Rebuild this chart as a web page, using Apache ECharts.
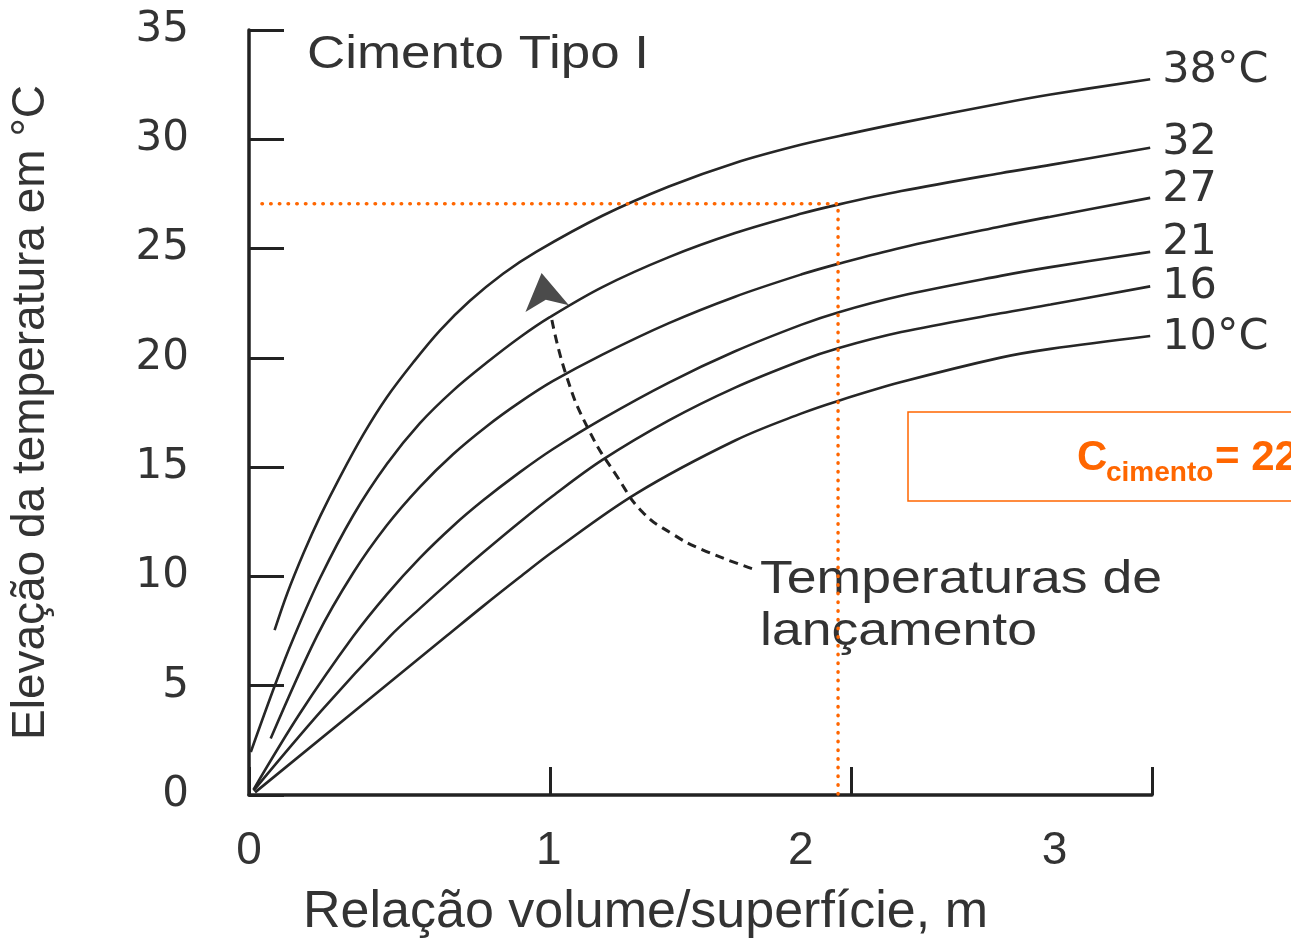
<!DOCTYPE html>
<html>
<head>
<meta charset="utf-8">
<script src="https://cdn.jsdelivr.net/npm/echarts@6/dist/echarts.min.js"></script>
<style>
  html, body { margin: 0; padding: 0; background: #fff; }
  #chart { width: 1291px; height: 944px; }
</style>
</head>
<body>
<div id="chart"></div>
<script>
// temperaturas de lançamento (rótulos no fim de cada curva)
var tempLabels = ['38°C', '32', '27', '21', '16', '10°C'];

// [relação volume/superfície (m), elevação da temperatura (°C)]
var curve38 = [[0.085, 7.54], [0.127, 9.22], [0.182, 11.09], [0.237, 12.77], [0.303, 14.57], [0.380, 16.5],
  [0.458, 18.2], [0.546, 19.8], [0.634, 21.25], [0.733, 22.6], [0.844, 23.85], [0.954, 24.85],
  [1.174, 26.5], [1.395, 27.84], [1.615, 28.92], [1.836, 29.76], [2.001, 30.27], [2.167, 30.75],
  [2.497, 31.64], [2.663, 32.05], [2.994, 32.75]];
var curve32 = [[0.006, 1.97], [0.088, 5.09], [0.149, 7.22], [0.237, 9.95], [0.347, 12.81], [0.458, 15.14],
  [0.568, 17.01], [0.678, 18.5], [0.788, 19.76], [0.899, 20.93], [0.998, 21.85], [1.174, 23.24],
  [1.395, 24.61], [1.615, 25.71], [1.836, 26.6], [1.957, 27.01], [2.167, 27.63], [2.497, 28.45],
  [2.663, 28.83], [2.994, 29.61]];
var curve27 = [[0.072, 2.58], [0.226, 7.28], [0.347, 10.18], [0.458, 12.34], [0.568, 14.1], [0.678, 15.59],
  [0.788, 16.85], [0.899, 17.96], [1.009, 18.93], [1.174, 20.15], [1.395, 21.59], [1.615, 22.8],
  [1.836, 23.82], [1.957, 24.3], [2.167, 25.04], [2.497, 26.01], [2.663, 26.46], [2.994, 27.32]];
var curve21 = [[0.015, 0.25], [0.17, 3.75], [0.347, 7.27], [0.458, 9.18], [0.568, 10.85], [0.678, 12.31],
  [0.777, 13.47], [0.899, 14.76], [1.009, 15.82], [1.174, 17.21], [1.395, 18.87], [1.615, 20.3],
  [1.836, 21.52], [1.957, 22.08], [2.167, 22.84], [2.497, 23.75], [2.663, 24.15], [2.994, 24.85]];
var curve16 = [[0.015, 0.2], [0.24, 3.85], [0.469, 7.27], [0.568, 8.54], [0.678, 9.9], [0.777, 11.08],
  [0.899, 12.48], [1.009, 13.68], [1.174, 15.33], [1.395, 17.14], [1.615, 18.64], [1.836, 19.88],
  [1.957, 20.44], [2.167, 21.18], [2.497, 22.04], [2.663, 22.44], [2.994, 23.27]];
var curve10 = [[0.02, 0.12], [0.656, 7.27], [0.777, 8.63], [0.899, 9.96], [1.009, 11.13], [1.285, 13.78],
  [1.615, 16.22], [1.836, 17.46], [1.957, 18.03], [2.167, 18.89], [2.497, 20.01], [2.663, 20.41],
  [2.994, 21.0]];

// linha de leitura (laranja) e seta tracejada
var guidePath = [[0.043, 27.05], [1.957, 27.05], [1.957, 0]];
var arrowPath = [[1.671, 10.36], [1.505, 11.23], [1.406, 11.95], [1.307, 12.95], [1.224, 14.55],
  [1.130, 16.67], [1.053, 19.24], [1.003, 21.97]];
var arrowHead = [[0.972, 23.88]];

var xTickLabels = ['0', '1', '2', '3'];

var chart = echarts.init(document.getElementById('chart'));

var curves = [curve38, curve32, curve27, curve21, curve16, curve10];
var labelShift = [-8, -5, -8, -9, 0, 2]; // deslocamento vertical dos rótulos
var xLabelAt = [0, 0.996, 1.833, 2.676];  // rótulos do eixo x não ficam sob os traços no original

var series = [];
for (var i = 0; i < curves.length; i++) {
  series.push({
    type: 'line',
    name: tempLabels[i],
    data: curves[i],
    smooth: 0.35,
    showSymbol: false,
    lineStyle: { color: '#262626', width: 2.6 },
    endLabel: {
      show: true,
      formatter: '{a}',
      distance: 12,
      offset: [0, labelShift[i]],
      fontFamily: 'DejaVu Sans',
      fontSize: 43,
      color: '#333'
    },
    z: 3
  });
}

series.push({
  type: 'line',
  data: arrowPath,
  smooth: true,
  showSymbol: false,
  lineStyle: { color: '#222', width: 3, type: [9, 6] },
  z: 4
});
series.push({
  type: 'scatter',
  data: arrowHead,
  symbol: 'arrow',
  symbolSize: [33, 36],
  symbolRotate: 9,
  itemStyle: { color: '#1e1e1e' },
  z: 5
});
series.push({
  type: 'line',
  data: guidePath,
  showSymbol: false,
  lineStyle: { color: '#ff6600', width: 3.5, type: [0.5, 8.2], cap: 'round' },
  z: 6
});

var option = {
  animation: false,
  backgroundColor: '#fff',
  grid: { left: 245, right: 139, top: 30, bottom: 144 },
  xAxis: {
    type: 'value',
    min: 0,
    max: 3,
    interval: 1,
    splitLine: { show: false },
    axisLine: { lineStyle: { color: '#222', width: 3.5 } },
    axisTick: { inside: true, length: 28, lineStyle: { color: '#222', width: 3 } },
    axisLabel: {
      customValues: xLabelAt,
      formatter: function (v) {
        var k = xLabelAt.indexOf(v);
        return k >= 0 ? xTickLabels[k] : '';
      },
      margin: 33,
      fontFamily: 'Liberation Sans',
      fontSize: 46,
      color: '#333'
    },
    name: 'Relação volume/superfície, m',
    nameLocation: 'middle',
    nameGap: 92,
    nameTextStyle: {
      fontFamily: 'Liberation Sans',
      fontSize: 52,
      color: '#333',
      padding: [0, 110, 0, 0]
    }
  },
  yAxis: {
    type: 'value',
    min: 0,
    max: 35,
    interval: 5,
    splitLine: { show: false },
    axisLine: { show: true, lineStyle: { color: '#222', width: 3.5 } },
    axisTick: { show: true, inside: true, length: 35, lineStyle: { color: '#222', width: 3 } },
    axisLabel: {
      margin: 60,
      fontFamily: 'DejaVu Sans',
      fontSize: 42,
      color: '#333'
    },
    name: 'Elevação da temperatura em °C',
    nameLocation: 'middle',
    nameRotate: 90,
    nameGap: 195,
    nameTextStyle: {
      fontFamily: 'Liberation Sans',
      fontSize: 46,
      color: '#333'
    }
  },
  graphic: [
    {
      type: 'text', x: 307, y: 55, scaleX: 1.15,
      style: { text: 'Cimento Tipo I', fontFamily: 'Liberation Sans', fontSize: 46, fill: '#333', verticalAlign: 'middle' }
    },
    {
      type: 'text', x: 760, y: 580, scaleX: 1.14,
      style: { text: 'Temperaturas de', fontFamily: 'Liberation Sans', fontSize: 47, fill: '#333', verticalAlign: 'middle' }
    },
    {
      type: 'text', x: 760, y: 632, scaleX: 1.14,
      style: { text: 'lançamento', fontFamily: 'Liberation Sans', fontSize: 47, fill: '#333', verticalAlign: 'middle' }
    },
    {
      type: 'rect',
      shape: { x: 908, y: 412, width: 420, height: 89 },
      style: { fill: 'none', stroke: '#ff6600', lineWidth: 1.5 }
    },
    {
      type: 'text', x: 1077, y: 458,
      style: { text: 'C', fontFamily: 'Liberation Sans', fontWeight: 'bold', fontSize: 42, fill: '#ff6600', verticalAlign: 'middle' }
    },
    {
      type: 'text', x: 1106, y: 473,
      style: { text: 'cimento', fontFamily: 'Liberation Sans', fontWeight: 'bold', fontSize: 28, fill: '#ff6600', verticalAlign: 'middle' }
    },
    {
      type: 'text', x: 1215, y: 458,
      style: { text: '= 22', fontFamily: 'Liberation Sans', fontWeight: 'bold', fontSize: 42, fill: '#ff6600', verticalAlign: 'middle' }
    }
  ],
  series: series
};

chart.setOption(option);
</script>
</body>
</html>
